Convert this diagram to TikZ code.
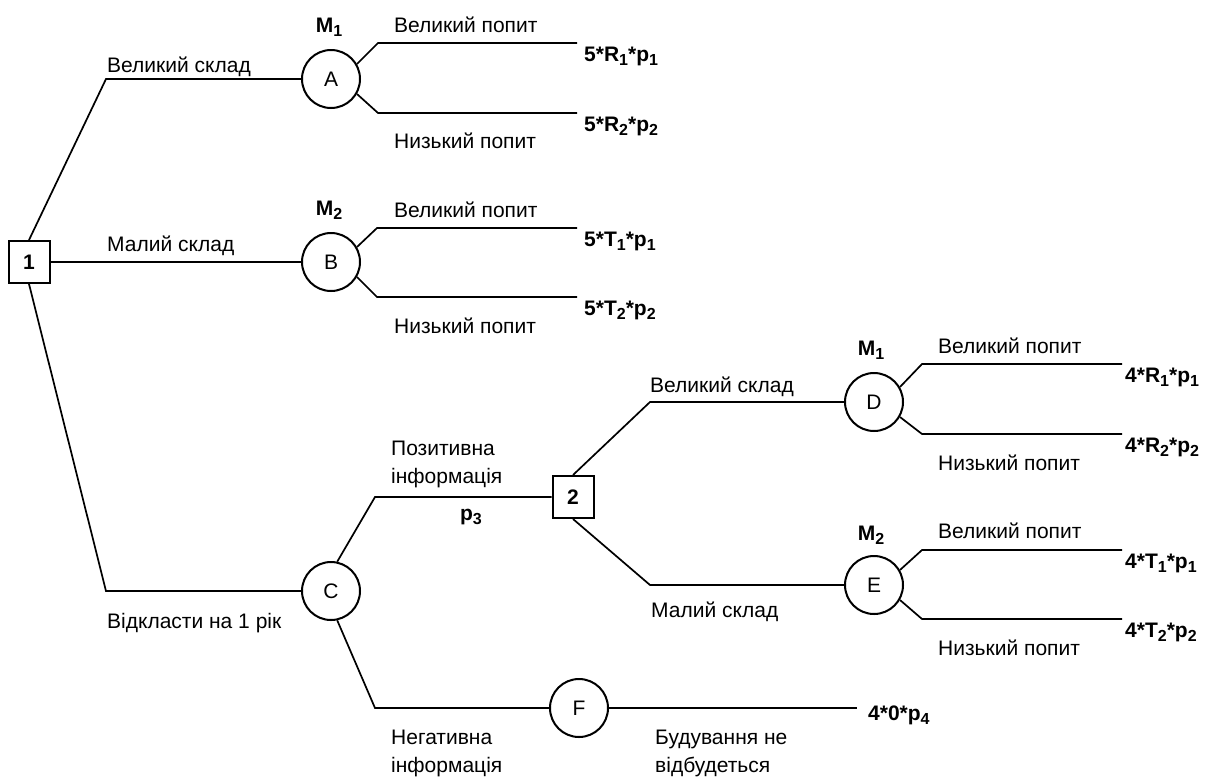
\documentclass[tikz,border=0pt]{standalone}
\usepackage{fontspec}
\setmainfont{Liberation Sans}
% lowered, smaller index for labels such as R_1 and p_1
\newcommand\sbs[1]{\raisebox{-4pt}{\fontsize{16}{16}\selectfont #1}}
\begin{document}
\begin{tikzpicture}[x=1pt,y=-1pt,
  every node/.style={font=\fontsize{21}{28}\selectfont},
  chance/.style={circle,draw,line width=2pt,minimum size=58pt,inner sep=0pt},
  decision/.style={rectangle,draw,line width=2pt,minimum width=41pt,minimum height=42pt,
    inner sep=0pt,font=\fontsize{21}{28}\selectfont\bfseries},
  branch/.style={line width=1.7pt,line join=miter},
  lbl/.style={anchor=base west,inner sep=0pt,align=left},
  res/.style={anchor=base west,inner sep=0pt,font=\fontsize{21}{28}\selectfont\bfseries},
  mlbl/.style={anchor=base,inner sep=0pt,font=\fontsize{21}{28}\selectfont\bfseries}]
\useasboundingbox (0,0) rectangle (1210,780);

% decision and chance nodes
\node[decision] (d1) at (29,262) {1};
\node[decision] (d2) at (573,497) {2};
\node[chance] (A) at (331,79) {A};
\node[chance] (B) at (331,262) {B};
\node[chance] (C) at (331,591) {C};
\node[chance] (D) at (874,402) {D};
\node[chance] (E) at (874,585) {E};
\node[chance] (F) at (579,708) {F};

% free ends of the outcome branches
\coordinate (a1) at (577,43);  \coordinate (a2) at (577,113);
\coordinate (b1) at (577,228); \coordinate (b2) at (577,297);
\coordinate (e1) at (1122,364); \coordinate (e2) at (1122,434);
\coordinate (e3) at (1122,550); \coordinate (e4) at (1122,619);
\coordinate (f1) at (857,708);

% first decision
\draw[branch] (d1.north) -- (106,79) -- (A.west);
\draw[branch] (d1.east) -- (B.west);
\draw[branch] (d1.south) -- (106,591) -- (C.west);

% information after one year
\draw[branch] (C.78) -- (375,497) -- (d2.west);
\draw[branch] (C.-78) -- (375,708) -- (F.west);
\draw[branch] (F.east) -- (f1);

% second decision
\draw[branch] (d2.north) -- (650,402) -- (D.west);
\draw[branch] (d2.south) -- (650,585) -- (E.west);

% demand outcomes
\draw[branch] (A.30) -- (378,43) -- (a1);
\draw[branch] (A.-30) -- (378,113) -- (a2);
\draw[branch] (B.30) -- (377,228) -- (b1);
\draw[branch] (B.-30) -- (377,297) -- (b2);
\draw[branch] (D.30) -- (922,364) -- (e1);
\draw[branch] (D.-30) -- (922,434) -- (e2);
\draw[branch] (E.30) -- (922,550) -- (e3);
\draw[branch] (E.-30) -- (922,619) -- (e4);

% branch labels (two-line labels are placed by their last line)
\node[lbl] at (107,72) {Великий склад};
\node[lbl] at (107,251) {Малий склад};
\node[lbl] at (107,628) {Відкласти на 1 рік};
\node[lbl] at (391,483) {Позитивна\\інформація};
\node[mlbl] at (471,520) {p\sbs{3}};
\node[lbl] at (391,772) {Негативна\\інформація};
\node[lbl] at (655,772) {Будування не\\відбудеться};
\node[lbl] at (650,392) {Великий склад};
\node[lbl] at (651,617) {Малий склад};

\node[mlbl] at (329,32) {M\sbs{1}};
\node[lbl] at (394,32) {Великий попит};
\node[lbl] at (394,148) {Низький попит};
\node[mlbl] at (329,215) {M\sbs{2}};
\node[lbl] at (394,217) {Великий попит};
\node[lbl] at (394,333) {Низький попит};
\node[mlbl] at (871,355) {M\sbs{1}};
\node[lbl] at (938,353) {Великий попит};
\node[lbl] at (938,470) {Низький попит};
\node[mlbl] at (871,540) {M\sbs{2}};
\node[lbl] at (938,538) {Великий попит};
\node[lbl] at (938,655) {Низький попит};

% payoffs
\node[res] at (584,61) {5*R\sbs{1}*p\sbs{1}};
\node[res] at (584,131) {5*R\sbs{2}*p\sbs{2}};
\node[res] at (584,246) {5*T\sbs{1}*p\sbs{1}};
\node[res] at (584,315) {5*T\sbs{2}*p\sbs{2}};
\node[res] at (1125,382) {4*R\sbs{1}*p\sbs{1}};
\node[res] at (1125,452) {4*R\sbs{2}*p\sbs{2}};
\node[res] at (1125,568) {4*T\sbs{1}*p\sbs{1}};
\node[res] at (1125,637) {4*T\sbs{2}*p\sbs{2}};
\node[res] at (868,720) {4*0*p\sbs{4}};
\end{tikzpicture}
\end{document}
